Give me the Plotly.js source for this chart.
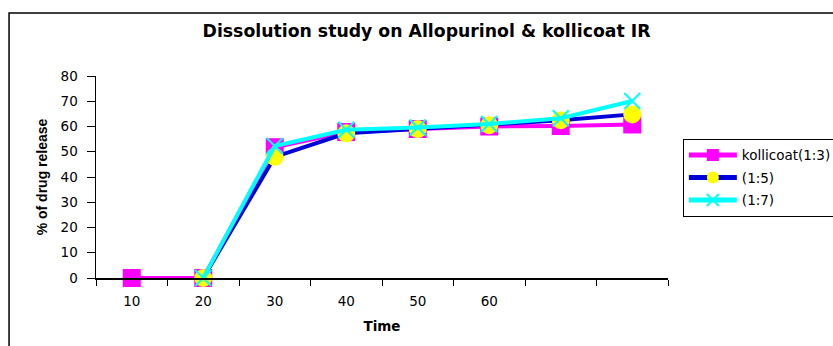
<!DOCTYPE html>
<html>
<head>
<meta charset="utf-8">
<script src="https://cdn.plot.ly/plotly-3.0.1.min.js"></script>
<style>html,body{margin:0;padding:0;background:#fff;}#chart{width:833px;height:346px;}</style>
</head>
<body>
<div id="chart"></div>
<script>
// Time categories (only the first six are labelled in the original)
const timeLabels = ["10", "20", "30", "40", "50", "60", "", ""];
const positions = [1, 2, 3, 4, 5, 6, 7, 8];
const seriesNames = ["kollicoat(1:3)", "(1:5)", "(1:7)"];
const kollicoat13 = [0, 0, 51.8, 57.8, 59, 60, 60.2, 60.8];
const ratio15 = [null, 0, 48, 57.3, 59, 60.5, 62.5, 64.8];
const ratio17 = [null, 0, 52.3, 58.7, 59.6, 61, 63.3, 70.1];

const traces = [
  {
    x: positions, y: kollicoat13, name: seriesNames[0], legendgroup: "a", type: "scatter", mode: "lines+markers",
    line: {color: "#FF00FF", width: 4},
    marker: {symbol: "square", size: 18, color: "#FF00FF"},
    cliponaxis: false
  },
  {
    x: positions, y: ratio15, name: seriesNames[1], legendgroup: "b", type: "scatter", mode: "lines+markers",
    line: {color: "#0000DD", width: 4},
    marker: {symbol: "circle", size: 18, color: "#FFFF00"},
    cliponaxis: false
  },
  {
    x: positions, y: ratio17, name: seriesNames[2], legendgroup: "c", type: "scatter", mode: "lines+markers",
    line: {color: "#00FFFF", width: 4},
    marker: {symbol: "x-thin", size: 16, color: "#00FFFF", line: {color: "#00FFFF", width: 2}},
    cliponaxis: false
  }
];

const layout = {
  width: 833, height: 346,
  margin: {l: 96, r: 165, t: 76, b: 68, autoexpand: false},
  paper_bgcolor: "#ffffff", plot_bgcolor: "#ffffff",
  font: {family: "DejaVu Sans, sans-serif", size: 13, color: "#000"},
  showlegend: true,
  title: {
    text: "<b>Dissolution study on Allopurinol & kollicoat IR</b>",
    font: {family: "DejaVu Sans, sans-serif", size: 17.3, color: "#000"},
    x: 0.512, xanchor: "center", y: 0.91, yanchor: "middle"
  },
  xaxis: {
    range: [0.5, 8.5], fixedrange: true,
    tickmode: "array", tickvals: positions, ticktext: timeLabels,
    ticks: "", ticklen: 0, ticklabelstandoff: 10,
    minor: {tickmode: "array", tickvals: [0.5,1.5,2.5,3.5,4.5,5.5,6.5,7.5,8.5], ticks: "outside", ticklen: 6, tickcolor: "#000", tickwidth: 1, showgrid: false},
    showline: true, linecolor: "#000", linewidth: 1.5,
    showgrid: false, zeroline: false,
    tickfont: {size: 13.5, color: "#000"},
    title: {text: "<b>Time</b>", font: {family: "DejaVu Sans, sans-serif", size: 13.5, color: "#000"}, standoff: 14}
  },
  yaxis: {
    range: [0, 80], dtick: 10, fixedrange: true,
    ticks: "outside", ticklen: 8, tickcolor: "#000", ticklabelstandoff: 6,
    showline: true, linecolor: "#000", linewidth: 1.5,
    showgrid: false, zeroline: false,
    tickfont: {size: 13.5, color: "#000"},
    title: {text: "<b>% of drug release</b>", font: {family: "Liberation Sans, Arial, sans-serif", size: 14, color: "#000"}, standoff: 9}
  },
  legend: {
    x: 1.026, xanchor: "left", y: 0.69, yanchor: "top",
    bordercolor: "#000", borderwidth: 1, bgcolor: "#fff",
    font: {size: 13.5, color: "#000"},
    itemwidth: 48, itemsizing: "constant", tracegroupgap: 2, traceorder: "grouped"
  },
  shapes: [
    {type: "rect", xref: "paper", yref: "paper", x0: -0.152, x1: 1.4, y0: -0.5, y1: 1.312,
     line: {color: "#000", width: 1.5}, fillcolor: "rgba(0,0,0,0)", layer: "below"}
  ]
};

Plotly.newPlot("chart", traces, layout, {displayModeBar: false, staticPlot: true});
</script>
</body>
</html>
